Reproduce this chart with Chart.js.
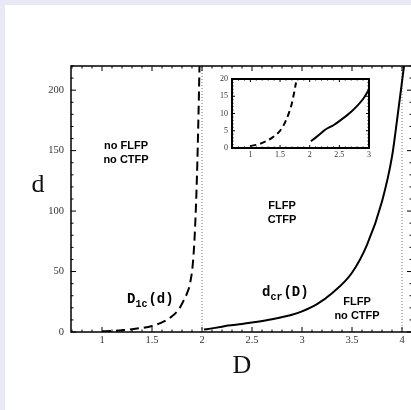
<!DOCTYPE html>
<html>
<head>
<meta charset="utf-8">
<script src="https://cdn.jsdelivr.net/npm/chart.js@4/dist/chart.umd.min.js"></script>
<style>
  html, body { margin: 0; padding: 0; background: #e9e9f6; overflow: hidden; }
  #panel { position: absolute; left: 5px; top: 5px; width: 420px; height: 420px; background: #fff; }
  #main { position: absolute; left: 0; top: 0; }
  #inset { position: absolute; left: 200px; top: 70px; }
</style>
</head>
<body>
<div id="panel"></div>
<canvas id="main" width="420" height="410"></canvas>
<canvas id="inset" width="180" height="100"></canvas>
<script>
// D_1c(d) curve (dashed), points as [D, d]
const d1cD = [1.0, 1.1, 1.2, 1.35, 1.5, 1.6, 1.7, 1.77, 1.81, 1.85, 1.88, 1.91, 1.93, 1.95, 1.965, 1.975];
const d1cd = [0.6, 0.9, 1.5, 2.8, 5, 8, 13, 19, 25, 32, 40, 58, 85, 130, 180, 220];

// d_cr(D) curve (solid)
const dcrD = [2.02, 2.1, 2.2, 2.26, 2.4, 2.5, 2.7, 2.9, 3.0, 3.15, 3.3, 3.5, 3.65, 3.8, 3.9, 3.95, 4.02];
const dcrd = [2.0, 3.0, 4.4, 5.3, 6.6, 7.8, 10.5, 14.2, 17, 23, 32, 49, 72, 108, 145, 175, 220];

// boundaries (dotted verticals)
const boundaries = [2, 4];

// tick labels
const xTicks = [1, 1.5, 2, 2.5, 3, 3.5, 4];
const yTicks = [0, 50, 100, 150, 200];
const insetXTicks = [1, 1.5, 2, 2.5, 3];
const insetYTicks = [0, 5, 10, 15, 20];

const toPts = (xs, ys, xmax) => xs.map((x, i) => ({ x: x, y: ys[i] })).filter(p => xmax === undefined || p.x <= xmax);

function frameTicks(minorX, majorX, minorY, majorY, lenMinor, lenMajor, lw) {
  return {
    id: 'frameTicks',
    afterDatasetsDraw(chart) {
      const { ctx, chartArea: a, scales: { x, y } } = chart;
      ctx.save();
      ctx.strokeStyle = '#000';
      ctx.lineWidth = 1;
      const near = (v, s) => Math.abs(v / s - Math.round(v / s)) < 1e-6;
      for (let v = Math.ceil(x.min / minorX) * minorX; v <= x.max + 1e-9; v += minorX) {
        const px = x.getPixelForValue(v);
        const L = near(v, majorX) ? lenMajor : lenMinor;
        ctx.beginPath();
        ctx.moveTo(px, a.bottom); ctx.lineTo(px, a.bottom - L);
        ctx.moveTo(px, a.top); ctx.lineTo(px, a.top + L);
        ctx.stroke();
      }
      for (let v = Math.ceil(y.min / minorY) * minorY; v <= y.max + 1e-9; v += minorY) {
        const py = y.getPixelForValue(v);
        const L = near(v, majorY) ? lenMajor : lenMinor;
        ctx.beginPath();
        ctx.moveTo(a.left, py); ctx.lineTo(a.left + L, py);
        ctx.moveTo(a.right, py); ctx.lineTo(a.right - L, py);
        ctx.stroke();
      }
      ctx.lineWidth = lw;
      ctx.strokeRect(a.left, a.top, a.right - a.left, a.bottom - a.top);
      ctx.restore();
    }
  };
}

const mainLabels = {
  id: 'mainLabels',
  afterDatasetsDraw(chart) {
    const { ctx, chartArea: a, scales: { x, y } } = chart;
    ctx.save();
    ctx.fillStyle = '#000';
    ctx.textAlign = 'center';
    ctx.textBaseline = 'middle';
    ctx.font = 'bold 11px "Liberation Sans", Arial, sans-serif';
    const region = (D, d, lines) => lines.forEach((t, i) =>
      ctx.fillText(t, x.getPixelForValue(D), y.getPixelForValue(d) + i * 14));
    region(1.24, 154, ['no FLFP', 'no CTFP']);
    region(2.8, 104, ['FLFP', 'CTFP']);
    region(3.55, 25, ['FLFP', 'no CTFP']);

    const curveLabel = (D, d, main, sub, rest) => {
      let px = x.getPixelForValue(D);
      const py = y.getPixelForValue(d);
      ctx.textAlign = 'left';
      ctx.textBaseline = 'alphabetic';
      ctx.font = 'bold 14px "Liberation Mono", "Courier New", monospace';
      ctx.fillText(main, px, py);
      px += ctx.measureText(main).width;
      ctx.font = 'bold 10px "Liberation Mono", "Courier New", monospace';
      ctx.fillText(sub, px, py + 4);
      px += ctx.measureText(sub).width + 1;
      ctx.font = 'bold 14px "Liberation Mono", "Courier New", monospace';
      ctx.fillText(rest, px, py);
    };
    curveLabel(1.25, 24, 'D', '1c', '(d)');
    curveLabel(2.6, 30, 'd', 'cr', '(D)');

    ctx.fillStyle = '#111';
    ctx.font = '26px "Liberation Serif", "Times New Roman", serif';
    ctx.textAlign = 'center';
    ctx.textBaseline = 'alphabetic';
    ctx.fillText('D', 242, 373);
    ctx.fillText('d', 38, 192);
    ctx.restore();
  }
};

const tickFont = { family: '"Liberation Serif", "Times New Roman", serif', size: 10.5 };

new Chart(document.getElementById('main'), {
  type: 'scatter',
  data: {
    datasets: [
      { data: toPts(d1cD, d1cd), showLine: true, borderColor: '#000', borderWidth: 2, borderDash: [9, 5], pointRadius: 0, cubicInterpolationMode: 'monotone' },
      { data: toPts(dcrD, dcrd), showLine: true, borderColor: '#000', borderWidth: 2, pointRadius: 0, cubicInterpolationMode: 'monotone' },
      ...boundaries.map(b => ({ data: [{ x: b, y: 0 }, { x: b, y: 220 }], showLine: true, borderColor: '#777', borderWidth: 1, borderDash: [1, 2], pointRadius: 0 }))
    ]
  },
  options: {
    responsive: false,
    animation: false,
    events: [],
    layout: { padding: { left: 0, top: 66, right: 8, bottom: 0 } },
    plugins: { legend: { display: false }, tooltip: { enabled: false } },
    scales: {
      x: {
        type: 'linear', min: 0.69, max: 4.1,
        afterBuildTicks: s => { s.ticks = xTicks.map(v => ({ value: v })); },
        afterFit: s => { s.height = 78; },
        grid: { display: false, drawTicks: false },
        border: { display: false },
        ticks: { color: '#333', font: tickFont, padding: 2, maxRotation: 0, callback: v => String(v) }
      },
      y: {
        type: 'linear', min: 0, max: 220,
        afterBuildTicks: s => { s.ticks = yTicks.map(v => ({ value: v })); },
        afterFit: s => { s.width = 71; },
        grid: { display: false, drawTicks: false },
        border: { display: false },
        ticks: { color: '#333', font: tickFont, padding: 7, callback: v => String(v) }
      }
    }
  },
  plugins: [frameTicks(0.1, 0.5, 10, 50, 2.5, 5, 1.5), mainLabels]
});

const insetFont = { family: '"Liberation Serif", "Times New Roman", serif', size: 8 };

new Chart(document.getElementById('inset'), {
  type: 'scatter',
  data: {
    datasets: [
      { data: toPts(d1cD, d1cd, 1.77), showLine: true, borderColor: '#000', borderWidth: 2, borderDash: [6, 4], pointRadius: 0, cubicInterpolationMode: 'monotone' },
      { data: toPts(dcrD, dcrd, 3.0), showLine: true, borderColor: '#000', borderWidth: 2, pointRadius: 0, cubicInterpolationMode: 'monotone' }
    ]
  },
  options: {
    responsive: false,
    animation: false,
    events: [],
    layout: { padding: { left: 0, top: 9, right: 11, bottom: 0 } },
    plugins: { legend: { display: false }, tooltip: { enabled: false } },
    scales: {
      x: {
        type: 'linear', min: 0.69, max: 3.0,
        afterBuildTicks: s => { s.ticks = insetXTicks.map(v => ({ value: v })); },
        afterFit: s => { s.height = 22; },
        grid: { display: false, drawTicks: false },
        border: { display: false },
        ticks: { color: '#333', font: insetFont, padding: 2, maxRotation: 0, callback: v => String(v) }
      },
      y: {
        type: 'linear', min: 0, max: 20,
        afterBuildTicks: s => { s.ticks = insetYTicks.map(v => ({ value: v })); },
        afterFit: s => { s.width = 32; },
        grid: { display: false, drawTicks: false },
        border: { display: false },
        ticks: { color: '#333', font: insetFont, padding: 4, callback: v => String(v) }
      }
    }
  },
  plugins: [frameTicks(0.1, 0.5, 1, 5, 1.5, 3, 2)]
});
</script>
</body>
</html>
